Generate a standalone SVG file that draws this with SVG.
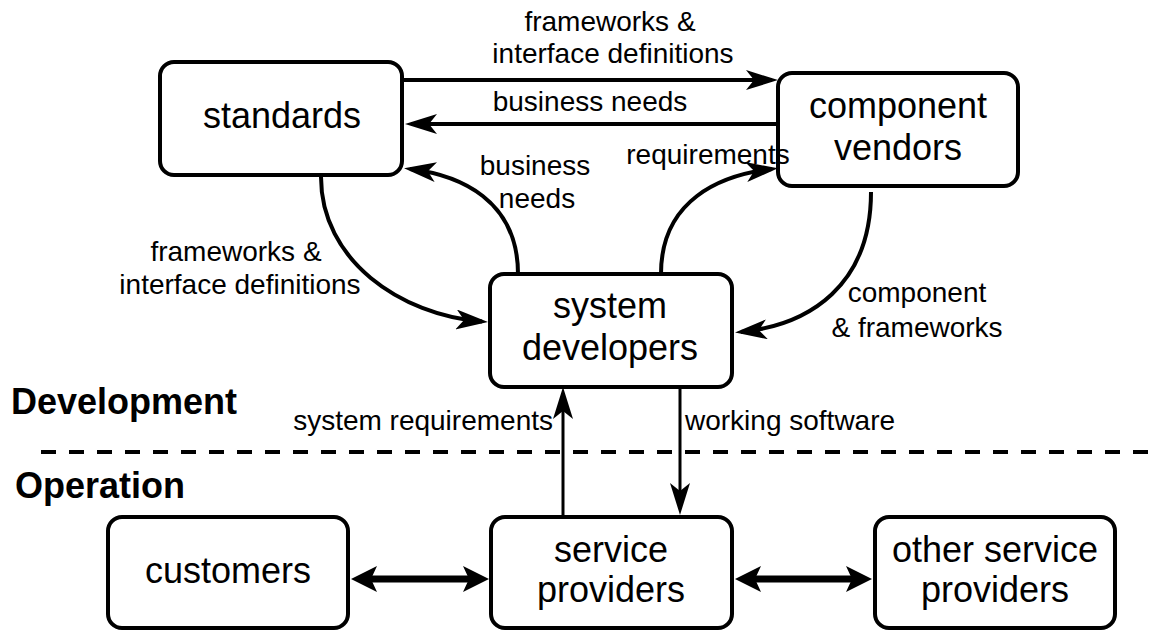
<svg xmlns="http://www.w3.org/2000/svg" width="1160" height="632" viewBox="0 0 1160 632">
<style>
.box{fill:#fff;stroke:#000;stroke-width:4}
.nt{font-family:"Liberation Sans",Arial,sans-serif;font-size:36px;fill:#000;text-anchor:middle}
.lb{font-family:"Liberation Sans",Arial,sans-serif;font-size:28px;fill:#000}
.sec{font-family:"Liberation Sans",Arial,sans-serif;font-size:36px;font-weight:bold;fill:#000}
.ln{fill:none;stroke:#000;stroke-width:4;marker-end:url(#ah)}
.thin{fill:none;stroke:#000;stroke-width:3;marker-end:url(#ah)}
.dbl{fill:none;stroke:#000;stroke-width:7;marker-start:url(#dh);marker-end:url(#dh)}
</style>
<defs>
<marker id="ah" markerUnits="userSpaceOnUse" markerWidth="32" markerHeight="20" viewBox="0 0 32 20" refX="26" refY="10" orient="auto">
<path d="M0,0 L32,10 L0,20 L8,10 Z" fill="#000"/>
</marker>
<marker id="dh" markerUnits="userSpaceOnUse" markerWidth="26" markerHeight="26" viewBox="0 0 26 26" refX="18" refY="13" orient="auto-start-reverse">
<path d="M0,0 L26,13 L0,26 L6,13 Z" fill="#000"/>
</marker>
</defs>
<rect width="1160" height="632" fill="#fff"/>

<g id="divider">
<line x1="41" y1="452" x2="1160" y2="452" stroke="#000" stroke-width="4" stroke-dasharray="15 13"/>
<text class="sec" x="11" y="414">Development</text>
<text class="sec" x="15" y="498">Operation</text>
</g>

<g id="standards">
<rect class="box" x="160" y="62" width="242" height="113" rx="14"/>
<text class="nt" x="282" y="128">standards</text>
</g>
<g id="component-vendors">
<rect class="box" x="778" y="73" width="240" height="113" rx="14"/>
<text class="nt" x="898" y="118">component</text>
<text class="nt" x="898" y="160">vendors</text>
</g>
<g id="system-developers">
<rect class="box" x="490" y="274" width="242" height="113" rx="14"/>
<text class="nt" x="610" y="318">system</text>
<text class="nt" x="610" y="360">developers</text>
</g>
<g id="customers">
<rect class="box" x="108" y="517" width="240" height="111" rx="14"/>
<text class="nt" x="228" y="583">customers</text>
</g>
<g id="service-providers">
<rect class="box" x="491" y="517" width="241" height="111" rx="14"/>
<text class="nt" x="611" y="562">service</text>
<text class="nt" x="611" y="602">providers</text>
</g>
<g id="other-service-providers">
<rect class="box" x="875" y="517" width="240" height="111" rx="14"/>
<text class="nt" x="995" y="562">other service</text>
<text class="nt" x="995" y="602">providers</text>
</g>

<g id="connectors">
<path class="ln" d="M402,80 H772"/>
<path class="ln" d="M778,124 H411"/>
<path class="ln" d="M321,177 C321,260 400,315 482,321.5"/>
<path class="ln" d="M518,274 C518,200 460,175 410,169"/>
<path class="ln" d="M661,274 C661,200 720,175 772,169"/>
<path class="ln" d="M871,192 C871,285 810,325 741,332"/>
<path class="thin" d="M563,517 V393"/>
<path class="thin" d="M680,387 V509"/>
<path class="dbl" d="M359,579 H481"/>
<path class="dbl" d="M743,579 H864"/>
<text class="lb" x="610" y="31" text-anchor="middle">frameworks &amp;</text>
<text class="lb" x="613" y="63" text-anchor="middle">interface definitions</text>
<text class="lb" x="590" y="111" text-anchor="middle">business needs</text>
<text class="lb" x="535" y="175" text-anchor="middle">business</text>
<text class="lb" x="537" y="208" text-anchor="middle">needs</text>
<text class="lb" x="708" y="164" text-anchor="middle">requirements</text>
<text class="lb" x="236" y="261" text-anchor="middle">frameworks &amp;</text>
<text class="lb" x="240" y="294" text-anchor="middle">interface definitions</text>
<text class="lb" x="917" y="302" text-anchor="middle">component</text>
<text class="lb" x="917" y="337" text-anchor="middle">&amp; frameworks</text>
<text class="lb" x="553" y="430" text-anchor="end">system requirements</text>
<text class="lb" x="685" y="430">working software</text>
</g>
</svg>
